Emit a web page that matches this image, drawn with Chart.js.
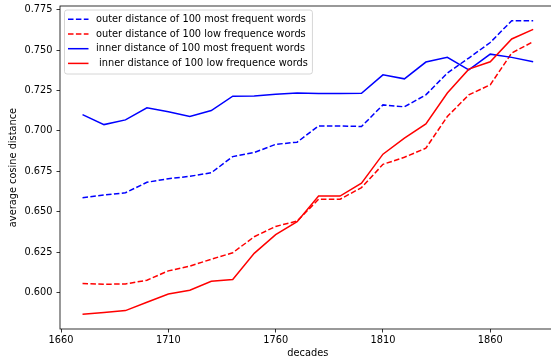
<!DOCTYPE html>
<html lang="en">
<head>
  <meta charset="UTF-8" />
  <title>Cosine distance by decade</title>
  <script src="https://cdn.jsdelivr.net/npm/chart.js"></script>
  <style>
    html, body {
      margin: 0;
      padding: 0;
      background: #fff;
      overflow: hidden;
    }

    /* the plot's right edge sits just past the visible window, as in the original crop */
    .clip {
      width: 551px;
      height: 363px;
      overflow: hidden;
    }

    #distChart {
      display: block;
    }
  </style>
</head>
<body>
  <div class="clip">
    <canvas id="distChart" width="560" height="363"></canvas>
  </div>

  <script>
    const decades = [1670, 1680, 1690, 1700, 1710, 1720, 1730, 1740, 1750, 1760, 1770,
                     1780, 1790, 1800, 1810, 1820, 1830, 1840, 1850, 1860, 1870, 1880];

    const outerFrequent = [0.6587, 0.6603, 0.6617, 0.6682, 0.6704, 0.6719, 0.6741, 0.6841, 0.6866, 0.6917, 0.6930,
                           0.7031, 0.7031, 0.7027, 0.7161, 0.7149, 0.7223, 0.7358, 0.7451, 0.7547, 0.7682, 0.7682];
    const outerLow = [0.6056, 0.6051, 0.6053, 0.6076, 0.6134, 0.6163, 0.6206, 0.6246, 0.6345, 0.6409, 0.6442,
                      0.6577, 0.6577, 0.6649, 0.6793, 0.6837, 0.6893, 0.7089, 0.7223, 0.7285, 0.7482, 0.7552];
    const innerFrequent = [0.7101, 0.7039, 0.7068, 0.7143, 0.7118, 0.7089, 0.7126, 0.7215, 0.7216, 0.7227, 0.7235,
                           0.7231, 0.7231, 0.7233, 0.7347, 0.7322, 0.7426, 0.7455, 0.7378, 0.7475, 0.7455, 0.7428];
    const innerLow = [0.5865, 0.5876, 0.5888, 0.5940, 0.5991, 0.6014, 0.6070, 0.6081, 0.6242, 0.6358, 0.6438,
                      0.6597, 0.6597, 0.6676, 0.6856, 0.6955, 0.7043, 0.7234, 0.7382, 0.7428, 0.7569, 0.7628];

    const seriesLabels = [
      'outer distance of 100 most frequent words',
      'outer distance of 100 low frequence words',
      'inner distance of 100 most frequent words',
      ' inner distance of 100 low frequence words'
    ];

    const xTicks = [1660, 1710, 1760, 1810, 1860];
    const yTicks = [0.600, 0.625, 0.650, 0.675, 0.700, 0.725, 0.750, 0.775];

    const FONT = 'DejaVu Sans';
    const DASH = [5.5, 2.4];

    // matplotlib-like 5% margins around the data
    const allValues = [].concat(outerFrequent, outerLow, innerFrequent, innerLow);
    const yLo = Math.min(...allValues), yHi = Math.max(...allValues);
    const xLo = decades[0], xHi = decades[decades.length - 1];
    const yPad = (yHi - yLo) * 0.05, xPad = (xHi - xLo) * 0.05;

    const toPoints = (arr) => decades.map((d, i) => ({ x: d, y: arr[i] }));

    function makeSet(label, values, color, dashed, order) {
      return {
        label: label,
        data: toPoints(values),
        borderColor: color,
        backgroundColor: color,
        borderWidth: 1.5,
        borderDash: dashed ? DASH : [],
        pointRadius: 0,
        tension: 0,
        fill: false,
        order: order
      };
    }

    // frame around plot + legend box in upper-left corner
    const framePlugin = {
      id: 'frameAndLegend',
      afterDraw(chart) {
        const { ctx, chartArea: a } = chart;
        ctx.save();
        ctx.strokeStyle = '#000';
        ctx.lineWidth = 0.8;
        ctx.strokeRect(a.left, a.top, a.right - a.left, a.bottom - a.top);

        ctx.font = '9.8px "' + FONT + '"';
        const sets = chart.data.datasets;
        let maxW = 0;
        sets.forEach(ds => { maxW = Math.max(maxW, ctx.measureText(ds.label).width); });

        const bx = a.left + 4.5, by = a.top + 4;
        const bw = 32 + maxW + 4, bh = 64;
        ctx.beginPath();
        ctx.roundRect(bx, by, bw, bh, 2.5);
        ctx.fillStyle = 'rgba(255,255,255,0.8)';
        ctx.fill();
        ctx.strokeStyle = '#cccccc';
        ctx.lineWidth = 0.8;
        ctx.stroke();

        sets.forEach((ds, i) => {
          const cy = by + 9.3 + i * 14.7;
          ctx.beginPath();
          ctx.setLineDash(ds.borderDash);
          ctx.strokeStyle = ds.borderColor;
          ctx.lineWidth = 1.5;
          ctx.moveTo(bx + 3.5, cy);
          ctx.lineTo(bx + 24, cy);
          ctx.stroke();
          ctx.setLineDash([]);
          ctx.fillStyle = '#000';
          ctx.textBaseline = 'middle';
          ctx.fillText(ds.label, bx + 31.5, cy);
        });
        ctx.restore();
      }
    };

    const chart = new Chart(document.getElementById('distChart'), {
      type: 'line',
      data: {
        datasets: [
          makeSet(seriesLabels[0], outerFrequent, '#0000ff', true, 3),
          makeSet(seriesLabels[1], outerLow, '#ff0000', true, 2),
          makeSet(seriesLabels[2], innerFrequent, '#0000ff', false, 1),
          makeSet(seriesLabels[3], innerLow, '#ff0000', false, 0)
        ]
      },
      options: {
        responsive: false,
        animation: false,
        layout: { padding: { top: 6, right: 4.3, left: 0, bottom: 0 } },
        plugins: {
          legend: { display: false },
          tooltip: { enabled: false }
        },
        scales: {
          x: {
            type: 'linear',
            min: xLo - xPad,
            max: xHi + xPad,
            afterBuildTicks: (s) => { s.ticks = xTicks.map(v => ({ value: v })); },
            afterFit: (s) => { s.height = 34; s.paddingLeft = 0; s.paddingRight = 0; },
            border: { display: false },
            grid: { drawOnChartArea: false, drawTicks: true, tickLength: 3.5, color: '#000', lineWidth: 0.8 },
            ticks: {
              color: '#000',
              padding: 2.5,
              maxRotation: 0,
              font: { family: FONT, size: 9.8 },
              callback: (v) => String(v)
            },
            title: {
              display: true,
              text: 'decades',
              color: '#000',
              font: { family: FONT, size: 9.8 },
              padding: { top: 0, bottom: 4 }
            }
          },
          y: {
            min: yLo - yPad,
            max: yHi + yPad,
            afterBuildTicks: (s) => { s.ticks = yTicks.map(v => ({ value: v })); },
            afterFit: (s) => { s.width = 60; s.paddingTop = 0; s.paddingBottom = 0; },
            border: { display: false },
            grid: { drawOnChartArea: false, drawTicks: true, tickLength: 3.5, color: '#000', lineWidth: 0.8 },
            ticks: {
              color: '#000',
              padding: 4,
              font: { family: FONT, size: 9.8 },
              callback: (v) => Number(v).toFixed(3)
            },
            title: {
              display: true,
              text: 'average cosine distance',
              color: '#000',
              font: { family: FONT, size: 9.8 },
              padding: { top: 7.5, bottom: 0 }
            }
          }
        }
      },
      plugins: [framePlugin]
    });
  </script>
</body>
</html>
